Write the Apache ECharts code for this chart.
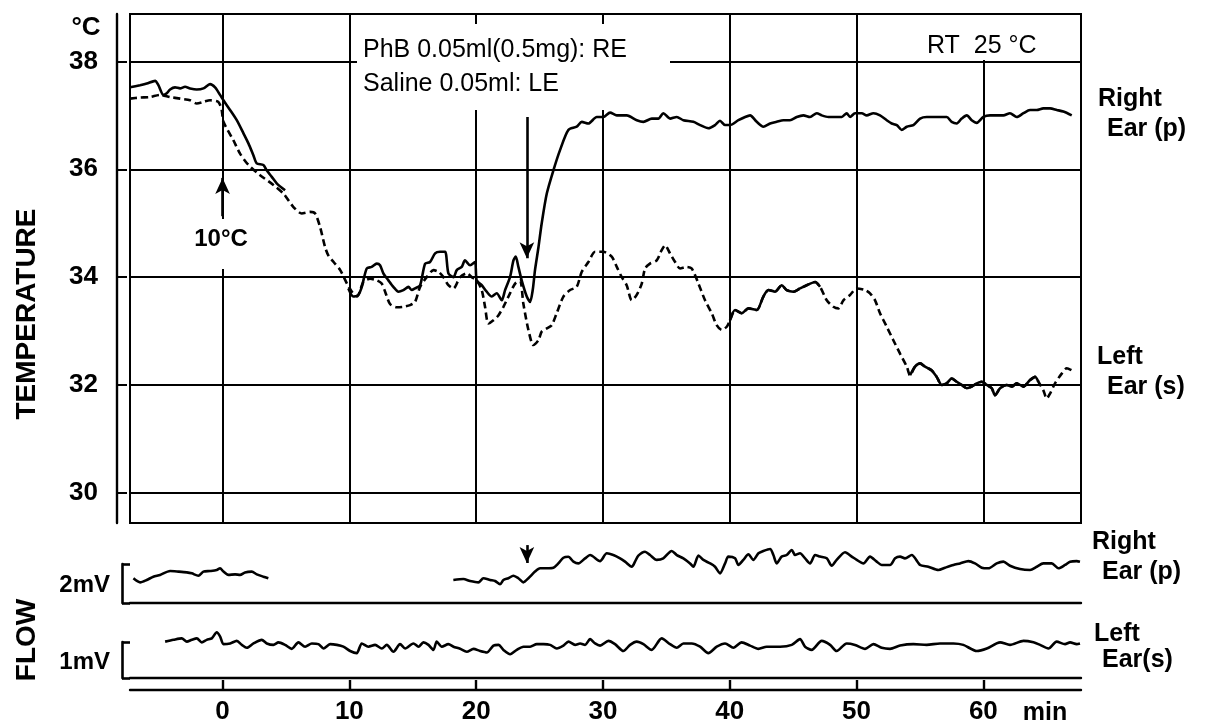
<!DOCTYPE html>
<html><head><meta charset="utf-8">
<script src="https://cdn.jsdelivr.net/npm/echarts@6.0.0/dist/echarts.min.js"></script>
<style>html,body{margin:0;padding:0;background:#fff}#c{width:1211px;height:724px}</style>
</head><body><div id="c"></div>
<script>
// ---------- data (time in min, temperature in °C, flow in mV) ----------
const minuteTicks = [0, 10, 20, 30, 40, 50, 60];
const tempTicks = [30, 32, 34, 36, 38];

const rightEarTemp = [
[-7.3,37.52],[-6.51,37.56],[-5.98,37.59],[-5.32,37.64],[-5.06,37.56],[-4.67,37.38],[-4.40,37.41],[-4.14,37.48],[-3.75,37.52],[-3.35,37.50],[-2.96,37.53],[-2.56,37.50],[-2.04,37.48],[-1.51,37.50],[-0.99,37.58],[-0.59,37.52],[-0.20,37.38],[0.07,37.28],[0.59,37.10],[1.12,36.91],[1.64,36.67],[2.04,36.48],[2.43,36.26],[2.69,36.11],[3.22,36.08],[3.48,35.98],[3.88,35.86],[4.27,35.74],[4.93,35.61],
[7,null],
[9.92,33.79],[10.31,33.64],[10.71,33.67],[10.98,33.82],[11.37,34.16],[11.76,34.19],[12.16,34.25],[12.42,34.22],[12.68,34.07],[13.08,33.94],[13.47,33.82],[13.87,33.73],[14.26,33.76],[14.66,33.82],[14.92,33.76],[15.18,33.79],[15.58,33.85],[15.97,34.25],[16.36,34.28],[16.76,34.44],[17.15,34.47],[17.55,34.47],[17.81,34.07],[18.21,34.00],[18.47,34.13],[18.86,34.19],[19.12,34.31],[19.52,34.22],[19.91,34.28],[20.04,33.94],[20.44,33.85],[20.83,33.73],[21.23,33.64],[21.62,33.70],[22.02,33.57],[22.28,33.76],[22.67,34.00],[22.94,34.31],[23.12,34.38],[23.33,34.19],[23.59,33.94],[23.99,33.64],[24.25,33.54],[24.46,33.76],[24.64,34.13],[24.91,34.55],[25.17,35.00],[25.57,35.55],[26.09,35.98],[26.62,36.36],[27.27,36.73],[27.93,36.79],[28.33,36.88],[28.85,36.85],[29.51,36.97],[30.03,36.97],[30.56,37.05],[31.09,37.00],[31.88,37.00],[32.67,36.91],[33.19,36.88],[33.85,36.94],[34.37,36.94],[34.76,37.04],[35.29,36.94],[35.82,36.97],[36.34,36.91],[37.13,36.88],[37.66,36.82],[38.31,36.76],[38.84,36.82],[39.23,36.90],[39.63,36.82],[40.02,36.82],[40.68,36.91],[41.21,36.97],[41.60,37.00],[42.13,36.88],[42.65,36.79],[43.18,36.85],[43.70,36.88],[44.23,36.91],[44.75,36.91],[45.28,36.97],[45.81,37.00],[46.33,36.97],[46.86,37.04],[47.25,37.00],[47.78,36.97],[48.30,36.97],[48.83,36.97],[49.22,37.04],[49.49,36.97],[49.88,37.04],[50.41,37.04],[50.80,37.00],[51.33,37.04],[51.85,37.00],[52.38,36.91],[52.77,36.85],[53.17,36.82],[53.56,36.73],[53.96,36.79],[54.48,36.82],[55.01,36.94],[55.53,36.97],[56.32,36.97],[57.11,36.97],[57.50,36.88],[57.90,36.85],[58.29,36.94],[58.69,37.00],[59.08,36.91],[59.48,36.86],[60.00,36.97],[60.53,37.00],[61.05,37.00],[61.58,37.00],[62.10,37.04],[62.63,36.97],[63.16,37.04],[63.68,37.10],[64.21,37.10],[64.73,37.13],[65.26,37.13],[65.79,37.10],[66.31,37.07],[66.97,37.00]
];

const leftEarTemp = [
[-7.3,37.31],[-6.51,37.33],[-5.72,37.34],[-4.93,37.38],[-4.14,37.34],[-3.35,37.31],[-2.56,37.28],[-2.04,37.22],[-1.51,37.25],[-0.99,37.28],[-0.33,37.25],[-0.07,37.10],[0.07,36.88],[0.85,36.54],[1.38,36.29],[2.04,36.08],[2.96,35.89],[4.01,35.71],[4.80,35.55],[5.59,35.30],[6.24,35.18],[6.90,35.21],[7.30,35.18],[7.69,34.93],[8.08,34.56],[8.35,34.40],[8.76,34.28],[9.28,34.13],[9.81,33.88],[10.2,33.73],[10.6,33.64],[11.11,33.91],[11.63,33.97],[12.16,33.94],[12.55,33.88],[12.82,33.73],[13.21,33.50],[13.74,33.44],[14.26,33.45],[14.79,33.48],[15.18,33.54],[15.58,33.82],[16.10,34.00],[16.63,34.13],[17.02,34.10],[17.42,34.00],[17.81,33.85],[18.21,33.79],[18.73,34.00],[19.26,34.07],[19.65,34.00],[20.04,33.94],[20.44,33.76],[20.70,33.45],[20.96,33.14],[21.36,33.20],[21.75,33.29],[22.15,33.45],[22.67,33.70],[23.07,33.88],[23.46,33.94],[23.72,33.51],[24.12,33.02],[24.51,32.74],[24.91,32.83],[25.17,32.99],[25.57,33.05],[25.96,33.11],[26.35,33.33],[26.88,33.64],[27.41,33.76],[27.93,33.82],[28.33,34.10],[28.85,34.28],[29.38,34.47],[30.03,34.47],[30.69,34.38],[31.09,34.19],[31.48,34.00],[31.87,33.85],[32.27,33.57],[32.66,33.67],[33.06,33.88],[33.32,34.16],[33.71,34.25],[34.24,34.31],[34.63,34.50],[34.90,34.59],[35.29,34.44],[35.69,34.28],[36.08,34.16],[36.61,34.19],[37.0,34.16],[37.53,33.88],[38.05,33.57],[38.58,33.33],[38.97,33.11],[39.37,33.02],[39.76,33.08],[40.02,33.20],[40.42,33.39],[40.94,33.33],[41.47,33.42],[42.13,33.39],[42.65,33.64],[43.05,33.76],[43.57,33.73],[44.10,33.85],[44.49,33.76],[45.02,33.73],[45.54,33.79],[46.07,33.85],[46.73,33.91],[47.12,33.82],[47.65,33.57],[48.17,33.45],[48.57,33.42],[48.96,33.57],[49.49,33.67],[50.01,33.79],[50.67,33.76],[51.06,33.70],[51.46,33.57],[51.85,33.33],[52.38,33.08],[52.90,32.83],[53.43,32.58],[53.96,32.34],[54.22,32.18],[54.61,32.34],[55.01,32.40],[55.40,32.34],[55.93,32.27],[56.32,32.15],[56.72,32.00],[57.11,32.03],[57.50,32.12],[57.90,32.06],[58.29,32.00],[58.69,31.94],[59.08,31.97],[59.48,32.03],[59.87,32.06],[60.26,32.00],[60.66,31.94],[60.92,31.81],[61.32,31.94],[61.84,32.00],[62.24,31.97],[62.63,32.03],[63.16,31.97],[63.68,32.09],[64.08,32.15],[64.34,32.06],[64.73,31.90],[65.00,31.75],[65.26,31.84],[65.65,32.03],[66.18,32.21],[66.58,32.31],[66.97,32.27]
];
// parts of the left-ear record that print as a continuous stroke
const leftEarSolidRanges = [[39.8, 47.3], [54.2, 64.5]];

const rightEarFlow = [
[-7.03,1.27],[-6.5,1.06],[-5.98,1.18],[-5.46,1.35],[-4.93,1.44],[-4.14,1.64],[-3.48,1.61],[-2.82,1.57],[-2.43,1.52],[-1.91,1.40],[-1.51,1.61],[-0.99,1.64],[-0.46,1.69],[-0.2,1.78],[0.07,1.61],[0.46,1.44],[0.99,1.47],[1.38,1.44],[1.77,1.57],[2.3,1.61],[2.7,1.47],[3.22,1.35],[3.61,1.27],
[10,null],
[18.2,1.18],[18.99,1.23],[19.52,1.13],[20.17,1.06],[20.57,1.27],[21.1,1.18],[21.49,1.13],[21.88,0.96],[22.15,1.18],[22.54,1.27],[22.93,1.40],[23.33,1.27],[23.72,1.06],[24.12,1.27],[24.64,1.61],[25.04,1.78],[25.57,1.78],[26.09,1.81],[26.48,2.03],[26.88,2.32],[27.27,2.37],[27.67,2.12],[28.06,2.03],[28.59,2.29],[28.98,2.46],[29.77,2.15],
[30.30,2.55],[30.82,2.46],[31.35,2.29],[31.74,2.12],[32.27,1.86],[32.53,2.12],[32.79,2.43],[33.32,2.63],[33.71,2.46],[34.24,2.21],[34.76,2.29],[35.42,2.67],[35.82,2.46],[36.34,2.29],[36.87,2.03],[37.13,1.86],[37.53,2.43],[37.92,2.21],[38.45,2.03],[38.84,1.86],[39.23,1.52],[39.63,2.03],[39.89,2.38],[40.42,2.29],[40.68,1.95],[41.07,2.21],[41.47,2.50],[41.86,2.21],[42.26,2.55],[42.65,2.67],[43.18,2.77],[43.44,2.46],[43.70,2.03],[44.10,2.38],[44.49,2.46],[44.89,2.72],[45.15,2.46],[45.54,2.55],[45.94,2.29],[46.33,2.03],[46.73,2.46],[47.12,2.38],[47.65,2.29],[48.04,1.91],[48.43,2.21],[49.09,2.60],[49.62,2.38],[50.01,2.21],[50.54,2.03],[51.06,2.38],[51.59,2.12],[51.98,1.95],[52.64,1.95],[53.04,2.29],[53.43,2.38],[53.82,2.29],[54.35,2.46],[55.01,1.95],[55.66,1.86],[56.45,1.69],[56.98,1.81],[57.64,1.95],[58.16,2.03],[58.82,2.15],[59.34,2.03],[59.87,1.81],[60.40,1.78],[61.05,2.03],[61.58,2.12],[62.10,1.91],[62.89,1.74],[63.68,1.69],[64.21,1.86],[64.73,2.03],[65.39,2.03],[65.92,1.78],[66.44,1.95],[66.84,2.12],[67.36,2.15],[67.62,2.12]
];

const leftEarFlow = [
[-4.53,1.01],[-3.87,1.06],[-3.22,1.10],[-2.82,1.01],[-2.43,1.06],[-2.03,1.10],[-1.64,0.99],[-1.25,1.06],[-0.85,1.10],[-0.46,1.27],[-0.19,1.15],[0.07,0.94],[0.60,0.96],[1.12,1.03],[1.52,0.92],[1.91,0.84],[2.44,0.96],[3.09,1.06],[3.49,0.96],[4.01,0.92],[4.41,0.99],[4.93,0.92],[5.46,0.81],[5.98,0.99],[6.51,0.87],[7.04,0.96],[7.56,0.94],[7.96,0.82],[8.48,0.94],[9.01,0.92],[9.53,0.87],[10.06,0.75],[10.58,0.69],[10.98,0.96],[11.50,0.87],[12.03,0.92],[12.56,0.82],[12.95,0.92],[13.48,0.73],[14.0,0.94],[14.40,0.82],[15.05,0.96],[15.45,0.87],[15.84,0.99],[16.24,0.92],[16.63,0.78],[16.89,1.01],[17.29,0.87],[17.81,0.94],[18.21,0.87],[18.73,0.81],[19.26,0.73],[19.79,0.81],[20.31,0.75],[20.84,0.71],[21.36,0.90],[21.76,0.92],[22.15,0.78],[22.68,0.66],[23.20,0.78],[23.73,0.87],[24.26,0.87],[24.78,0.94],[25.31,0.94],[25.83,0.92],[26.36,0.82],[26.88,0.90],[27.28,1.01],[27.80,0.92],[28.20,0.96],[28.59,0.92],[28.99,1.08],[29.38,0.96],[29.77,0.90],
[30.43,1.03],[30.95,0.94],[31.61,0.75],[32.14,0.92],[32.66,1.01],[33.19,0.94],[33.84,0.78],[34.63,1.10],[35.29,0.94],[35.82,0.84],[36.34,0.96],[37.0,0.96],[37.66,0.87],[38.31,0.69],[38.97,0.87],[39.63,0.96],[40.29,0.84],[40.94,0.99],[41.60,0.90],[42.26,0.81],[42.91,0.87],[43.97,0.87],[44.89,0.92],[45.54,1.08],[45.94,0.87],[46.46,0.78],[47.25,1.03],[47.91,0.92],[48.43,0.75],[49.22,0.96],[49.88,0.92],[50.67,0.81],[51.33,0.94],[51.98,0.84],[52.64,0.81],[53.43,0.90],[54.48,0.94],[55.53,0.92],[56.58,0.96],[57.64,0.96],[58.42,0.92],[59.48,0.75],[60.27,0.82],[61.32,0.99],[62.10,0.92],[63.16,1.03],[63.95,0.99],[64.47,0.92],[65.13,0.82],[65.78,1.01],[66.44,0.94],[66.84,0.99],[67.36,0.94],[67.62,0.96]
];

// annotation arrows: [minute, from, to]
const injectionArrowTemp = [24, 36.97, 34.35];
const coolingArrowTemp = [0, 35.13, 35.84];
const injectionArrowFlow = [24, 2.97, 2.05];

// ---------- chart ----------
const X_MIN = -7.3, X_MAX = 67.7;
const FONT = 'Liberation Sans';
const BLACK = '#000';

const leftEarSolid = leftEarTemp.map(p =>
  leftEarSolidRanges.some(r => p[0] >= r[0] && p[0] <= r[1]) ? p : [p[0], null]);

function hiddenX(g) { return {gridIndex: g, type: 'value', min: X_MIN, max: X_MAX, show: false}; }
function bracketY(g, max) {
  return {gridIndex: g, type: 'value', min: 0, max: max, offset: 8,
    axisLine: {show: true, onZero: false, lineStyle: {color: BLACK, width: 2.6}},
    axisTick: {show: true, inside: true, length: 8, customValues: [0, max], lineStyle: {color: BLACK, width: 2.6}},
    axisLabel: {show: false}, splitLine: {show: false}};
}
function baselineX(g) {
  return {gridIndex: g, type: 'value', min: X_MIN, max: X_MAX,
    axisLine: {show: true, onZero: false, lineStyle: {color: BLACK, width: 2.4}},
    axisTick: {show: false}, axisLabel: {show: false}, splitLine: {show: false}};
}
function arrowPair(a) { return [{coord: [a[0], a[1]]}, {coord: [a[0], a[2]]}]; }
function arrowLine(list) {
  return {silent: true, symbol: ['none', 'arrow'], symbolSize: [11, 16], animation: false,
    label: {show: false}, lineStyle: {color: BLACK, width: 2.6, type: 'solid'},
    data: list.map(arrowPair)};
}
const traceStyle = {color: BLACK, width: 2.6};

function txt(text, x, y, size, opts) {
  opts = opts || {};
  return {type: 'text', x: x, y: y, rotation: opts.rot || 0, z: 10,
    style: {text: text, fill: BLACK, fontSize: size, fontFamily: FONT, fontWeight: opts.weight || 'bold',
      textAlign: opts.align || 'left', textVerticalAlign: 'middle'}};
}
function box(x, y, w, h) {
  return {type: 'rect', z: 1, shape: {x: x, y: y, width: w, height: h}, style: {fill: '#fff'}};
}

const chart = echarts.init(document.getElementById('c'), null, {renderer: 'canvas'});
chart.setOption({
  animation: false,
  backgroundColor: '#fff',
  grid: [
    {left: 130, right: 130, top: 14, height: 509, show: true, borderColor: BLACK, borderWidth: 2, backgroundColor: 'transparent', outerBoundsMode: 'none'},
    {left: 130, right: 130, top: 564, height: 39, outerBoundsMode: 'none'},
    {left: 130, right: 130, top: 528, height: 75, outerBoundsMode: 'none'},
    {left: 130, right: 130, top: 642, height: 36, outerBoundsMode: 'none'},
    {left: 130, right: 130, top: 610, height: 68, outerBoundsMode: 'none'}
  ],
  xAxis: [
    {gridIndex: 0, type: 'value', min: X_MIN, max: X_MAX, splitNumber: 7,
      axisLine: {show: false}, axisTick: {show: false, customValues: minuteTicks},
      axisLabel: {show: false, customValues: minuteTicks},
      splitLine: {show: true, lineStyle: {color: BLACK, width: 2}}},
    baselineX(1),
    hiddenX(2),
    baselineX(3),
    {gridIndex: 3, type: 'value', min: X_MIN, max: X_MAX, position: 'bottom', offset: 12,
      axisLine: {show: true, onZero: false, lineStyle: {color: BLACK, width: 2.4}},
      axisTick: {show: true, inside: true, length: 10, customValues: minuteTicks, lineStyle: {color: BLACK, width: 2.4}},
      axisLabel: {show: true, customValues: minuteTicks, margin: 9, color: BLACK, fontSize: 26, fontFamily: FONT, fontWeight: 'bold'},
      splitLine: {show: false}},
    hiddenX(4)
  ],
  yAxis: [
    {gridIndex: 0, type: 'value', min: 29.44, max: 38.88, offset: 13, splitNumber: 5,
      axisLine: {show: true, onZero: false, lineStyle: {color: BLACK, width: 2.4}},
      axisTick: {show: true, inside: true, length: 10, customValues: tempTicks, lineStyle: {color: BLACK, width: 2}},
      axisLabel: {show: true, customValues: tempTicks, margin: 19, color: BLACK, fontSize: 26, fontFamily: FONT, fontWeight: 'bold'},
      splitLine: {show: true, lineStyle: {color: BLACK, width: 2}}},
    bracketY(1, 2),
    {gridIndex: 2, type: 'value', min: 0, max: 75 / 19.5, show: false},
    bracketY(3, 1),
    {gridIndex: 4, type: 'value', min: 0, max: 68 / 36, show: false}
  ],
  series: [
    {name: 'Right Ear (p) temperature', type: 'line', xAxisIndex: 0, yAxisIndex: 0, data: rightEarTemp,
      showSymbol: false, smooth: 0.25, connectNulls: false, lineStyle: traceStyle, z: 4,
      markLine: arrowLine([injectionArrowTemp, coolingArrowTemp])},
    {name: 'Left Ear (s) temperature', type: 'line', xAxisIndex: 0, yAxisIndex: 0, data: leftEarTemp,
      showSymbol: false, smooth: 0.25, lineStyle: {color: BLACK, width: 2.6, type: [7, 4]}, z: 3},
    {name: 'Left Ear (s) temperature solid', type: 'line', xAxisIndex: 0, yAxisIndex: 0, data: leftEarSolid,
      showSymbol: false, smooth: 0.25, connectNulls: false, lineStyle: traceStyle, z: 3},
    {name: 'Right Ear (p) flow', type: 'line', xAxisIndex: 2, yAxisIndex: 2, data: rightEarFlow,
      showSymbol: false, smooth: 0.25, connectNulls: false, lineStyle: traceStyle, z: 4,
      markLine: arrowLine([injectionArrowFlow])},
    {name: 'Left Ear (s) flow', type: 'line', xAxisIndex: 5, yAxisIndex: 4, data: leftEarFlow,
      showSymbol: false, smooth: 0.25, lineStyle: traceStyle, z: 4}
  ],
  graphic: [
    box(357, 24, 313, 86),
    box(862, 15, 216, 45),
    box(192, 219, 60, 50),
    txt('°C', 86, 28, 26, {align: 'center'}),
    txt('TEMPERATURE', 27, 314, 28, {rot: Math.PI / 2, align: 'center'}),
    txt('FLOW', 27, 640, 28, {rot: Math.PI / 2, align: 'center'}),
    txt('2mV', 110, 585, 24, {align: 'right'}),
    txt('1mV', 110, 662, 24, {align: 'right'}),
    txt('PhB 0.05ml(0.5mg): RE', 363, 50, 25, {weight: 'normal'}),
    txt('Saline 0.05ml: LE', 363, 84, 25, {weight: 'normal'}),
    txt('RT  25 °C', 927, 46, 25, {weight: 'normal'}),
    txt('10°C', 221, 239, 24, {align: 'center'}),
    txt('Right', 1098, 99, 25),
    txt('Ear (p)', 1107, 129, 25),
    txt('Left', 1097, 357, 25),
    txt('Ear (s)', 1107, 387, 25),
    txt('Right', 1092, 542, 25),
    txt('Ear (p)', 1102, 572, 25),
    txt('Left', 1094, 634, 25),
    txt('Ear(s)', 1102, 660, 25),
    txt('min', 1045, 713, 25, {align: 'center'})
  ]
});
</script>
</body></html>
